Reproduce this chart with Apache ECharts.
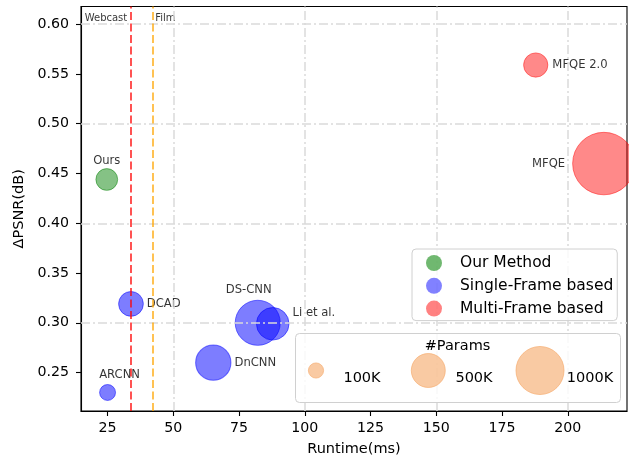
<!DOCTYPE html>
<html>
<head>
<meta charset="utf-8">
<script src="https://cdn.jsdelivr.net/npm/echarts@6/dist/echarts.min.js"></script>
<style>html,body{margin:0;padding:0;background:#fff}#c{width:629px;height:462px}</style>
</head>
<body>
<div id="c"></div>
<script>
// ---- data ----
const seriesNames = ['Our Method', 'Single-Frame based', 'Multi-Frame based'];

const ourNames = ['Ours'];
const ourRuntime = [24.7];
const ourPSNR = [0.444];
const ourParams = [205];

const singleNames = ['ARCNN', 'DCAD', 'DnCNN', 'DS-CNN', 'Li et al.'];
const singleRuntime = [25.0, 33.9, 65.2, 82.1, 87.8];
const singlePSNR = [0.230, 0.319, 0.260, 0.300, 0.299];
const singleParams = [110, 265, 540, 880, 460];

const multiNames = ['MFQE 2.0', 'MFQE'];
const multiRuntime = [187.8, 213.7];
const multiPSNR = [0.559, 0.460];
const multiParams = [255, 1690];

const xTicks = [25, 50, 75, 100, 125, 150, 175, 200];
const yTicks = [0.25, 0.30, 0.35, 0.40, 0.45, 0.50, 0.55, 0.60];
const xGrid = [50, 100, 150, 200];
const yGrid = [0.30, 0.40, 0.50, 0.60];

const refNames = ['Webcast', 'Film'];
const refRuntime = [34, 42];

const sizeLegendParams = [100, 500, 1000];
const sizeLegendLabels = ['100K', '500K', '1000K'];

// ---- styling / layout ----
const FONT = 'DejaVu Sans';
const TXT = '#000';
const X_MIN = 14.9, X_MAX = 222.5, Y_MIN = 0.2114, Y_MAX = 0.6178;
const sizeOf = p => 2 * 0.76 * Math.sqrt(p);
const colors = ['rgba(0,128,0,0.6)', 'rgba(0,0,255,0.64)', 'rgba(255,0,0,0.58)'];
const legendColors = ['rgba(0,128,0,0.7)', 'rgba(0,0,255,0.62)', 'rgba(255,0,0,0.62)'];
const labelCfg = {
  'Ours': {position: 'top', distance: 1},
  'ARCNN': {position: 'top', distance: 3, offset: [12, 0]},
  'DCAD': {position: 'right', distance: 3},
  'DnCNN': {position: 'right', distance: 3},
  'DS-CNN': {position: 'top', distance: 4, offset: [-9, 0]},
  'Li et al.': {position: 'right', distance: 3, offset: [0, -11]},
  'MFQE 2.0': {position: 'right', distance: 4},
  'MFQE': {position: 'left', distance: 7}
};

function buildData(names, xs, ys, ps) {
  return names.map((n, i) => ({
    name: n,
    value: [xs[i], ys[i], ps[i]],
    label: Object.assign({show: true, formatter: n, fontSize: 11.6, fontFamily: FONT, color: TXT}, labelCfg[n])
  }));
}

const groups = [
  buildData(ourNames, ourRuntime, ourPSNR, ourParams),
  buildData(singleNames, singleRuntime, singlePSNR, singleParams),
  buildData(multiNames, multiRuntime, multiPSNR, multiParams)
];

const series = [];
series.push({
  type: 'scatter', name: '_grid', data: [], z: 1, silent: true,
  markLine: {
    silent: true, symbol: ['none', 'none'], label: {show: false}, animation: false,
    lineStyle: {color: '#dadada', width: 1.5, type: [9, 3, 2, 3]},
    data: xGrid.map(v => ({xAxis: v})).concat(yGrid.map(v => ({yAxis: v})))
  }
});
groups.forEach((g, i) => {
  series.push({
    type: 'scatter', name: seriesNames[i], data: g, z: 2,
    symbolSize: v => sizeOf(v[2]),
    itemStyle: {color: colors[i], borderColor: colors[i], borderWidth: 1},
    emphasis: {disabled: true}
  });
});
const refColors = ['rgba(255,0,0,0.75)', 'rgba(255,165,0,0.75)'];
series.push({
  type: 'scatter', name: '_ref', z: 3, silent: true,
  symbolSize: 0,
  data: refRuntime.map((x, i) => ({
    value: [x, 0.6055],
    label: {show: true, formatter: refNames[i], position: i === 0 ? 'left' : 'right',
            distance: i === 0 ? 4 : 3, fontSize: 10, fontFamily: FONT, color: TXT}
  })),
  markLine: {
    silent: true, symbol: ['none', 'none'], label: {show: false}, animation: false,
    data: refRuntime.map((x, i) => ({xAxis: x, lineStyle: {color: refColors[i], width: 1.8, type: [8, 3.5]}}))
  }
});

const boxL = 295, boxT = 333, boxW = 325, boxH = 69;
const circX = [316, 428.3, 540], circY = 370.5;
const labX = [362, 474, 590], labY = 378;
const sizeGraphic = [{
  type: 'rect', z: 100,
  shape: {x: boxL + 0.5, y: boxT + 0.5, width: boxW, height: boxH, r: 4},
  style: {fill: 'rgba(255,255,255,0.8)', stroke: '#d0d0d0', lineWidth: 1}
}, {
  type: 'text', z: 101, x: 457.5, y: 346,
  style: {text: '#Params', font: '14.5px "DejaVu Sans"', fill: TXT, align: 'center', verticalAlign: 'middle'}
}];
sizeLegendParams.forEach((p, i) => {
  sizeGraphic.push({
    type: 'circle', z: 101,
    shape: {cx: circX[i], cy: circY, r: sizeOf(p) / 2},
    style: {fill: 'rgba(244,164,96,0.58)', stroke: 'rgba(244,164,96,0.58)', lineWidth: 1}
  });
  sizeGraphic.push({
    type: 'text', z: 101, x: labX[i], y: labY,
    style: {text: sizeLegendLabels[i], font: '14.5px "DejaVu Sans"', fill: TXT, align: 'center', verticalAlign: 'middle'}
  });
});

const chart = echarts.init(document.getElementById('c'), null, {renderer: 'canvas'});
chart.setOption({
  animation: false,
  backgroundColor: '#fff',
  grid: {left: 81, right: 2, top: 6.5, bottom: 51, show: true, borderColor: '#000', borderWidth: 1.1, backgroundColor: 'transparent'},
  xAxis: {
    type: 'value', min: X_MIN, max: X_MAX,
    name: 'Runtime(ms)', nameLocation: 'middle', nameGap: 31,
    nameTextStyle: {fontSize: 14.5, fontFamily: FONT, color: TXT},
    axisLine: {show: true, lineStyle: {color: '#000', width: 1.1}},
    axisTick: {show: true, length: 5, customValues: xTicks, lineStyle: {color: '#000', width: 1.1}},
    axisLabel: {customValues: xTicks, margin: 10, fontSize: 14.2, fontFamily: FONT, color: TXT},
    splitLine: {show: false}
  },
  yAxis: {
    type: 'value', min: Y_MIN, max: Y_MAX,
    name: 'ΔPSNR(dB)', nameLocation: 'middle', nameGap: 51,
    nameTextStyle: {fontSize: 14.5, fontFamily: FONT, color: TXT},
    axisLine: {show: true, lineStyle: {color: '#000', width: 1.1}},
    axisTick: {show: true, length: 5, customValues: yTicks, lineStyle: {color: '#000', width: 1.1}},
    axisLabel: {customValues: yTicks, margin: 12, fontSize: 14.2, fontFamily: FONT, color: TXT,
                formatter: v => v.toFixed(2)},
    splitLine: {show: false}
  },
  legend: {
    data: seriesNames.map((n, i) => ({name: n, itemStyle: {color: legendColors[i], borderWidth: 0}})),
    orient: 'vertical', left: 412, top: 249,
    padding: [6, 4, 4, 14], itemWidth: 36, itemHeight: 16, itemGap: 6.8, icon: 'circle',
    itemStyle: {borderWidth: 0},
    textStyle: {fontSize: 15.5, lineHeight: 16, fontFamily: FONT, color: TXT, padding: [0, 0, 0, 3]},
    backgroundColor: 'rgba(255,255,255,0.8)', borderColor: '#d0d0d0', borderWidth: 1, borderRadius: 4,
    selectedMode: false, z: 100
  },
  series: series,
  graphic: sizeGraphic
});
</script>
</body>
</html>
